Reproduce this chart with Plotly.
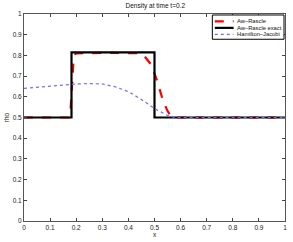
import plotly.graph_objects as go

# ---- data ----
x_exact = [0, 0.182, 0.182, 0.5, 0.5, 1]
rho_exact = [0.5, 0.5, 0.815, 0.815, 0.5, 0.5]

x_ar = [0, 0.172, 0.178, 0.184, 0.19, 0.196, 0.2, 0.3, 0.4, 0.44, 0.456, 0.47, 0.487,
        0.5, 0.512, 0.531, 0.55, 0.563, 0.582, 0.6, 0.8, 1]
rho_ar = [0.5, 0.5, 0.53, 0.68, 0.78, 0.805, 0.81, 0.812, 0.812, 0.811, 0.805, 0.785,
          0.756, 0.712, 0.67, 0.588, 0.531, 0.507, 0.5, 0.5, 0.5, 0.5]

x_hj = [0, 0.05, 0.1, 0.15, 0.2, 0.25, 0.3, 0.35, 0.4, 0.45, 0.5, 0.55, 0.58, 0.6, 0.8, 1]
rho_hj = [0.641, 0.647, 0.653, 0.658, 0.662, 0.664, 0.662, 0.648, 0.625, 0.587, 0.543,
          0.51, 0.5, 0.5, 0.5, 0.5]

names = ["Aw\u2013Rascle", "Aw\u2013Rascle exact", "Hamilton\u2013Jacobi"]
colors = ["#ff0000", "#000000", "#6f6fff"]
dashes = ["dash", "solid", "dot"]
widths = [2.2, 2.2, 1.2]
title = "Density at time t=0.2"
xlabel = "x"
ylabel = "rho"
ticks = [i / 10 for i in range(11)]

FONT = "Liberation Sans, Arial, sans-serif"
W, H = 293, 242
L, R, T, B = 23, 6, 14, 19

fig = go.Figure()
series = [(x_ar, rho_ar), (x_exact, rho_exact), (x_hj, rho_hj)]
for (xs, ys), n, c, d, w in zip(series, names, colors, dashes, widths):
    fig.add_trace(go.Scatter(x=xs, y=ys, mode="lines", name=n,
                             line=dict(color=c, dash=d, width=w), showlegend=False))

axis_common = dict(range=[0, 1], tickvals=ticks, ticks="inside", ticklen=3,
                   tickcolor="#444", showline=True, linecolor="#555", linewidth=1,
                   mirror="ticks", showgrid=False, zeroline=False,
                   tickfont=dict(size=6.5, color="#222", family=FONT))
fig.update_xaxes(**axis_common)
fig.update_yaxes(**axis_common)
fig.update_xaxes(title=dict(text=xlabel, font=dict(size=6.5, color="#222", family=FONT), standoff=1))
fig.update_yaxes(title=dict(text=ylabel, font=dict(size=6.5, color="#222", family=FONT), standoff=2))

# manual legend (paper coordinates)
pw, ph = W - L - R, H - T - B
def px(xp):
    return (xp - L) / pw
def py(yp):
    return 1 - (yp - T) / ph

shapes = [dict(type="rect", xref="paper", yref="paper", x0=px(213.5), x1=px(286),
               y0=py(39.5), y1=py(15), line=dict(color="#000", width=1),
               fillcolor="white", layer="above")]
annotations = []
rows = [21.5, 28, 34.5]
for n, c, d, w, yy in zip(names, colors, dashes, widths, rows):
    shapes.append(dict(type="line", xref="paper", yref="paper", x0=px(216), x1=px(235),
                       y0=py(yy), y1=py(yy), line=dict(color=c, dash=d, width=w),
                       layer="above"))
    annotations.append(dict(xref="paper", yref="paper", x=px(236.5), y=py(yy), text=n,
                            showarrow=False, xanchor="left", yanchor="middle",
                            font=dict(size=5.8, color="#111", family=FONT)))

fig.update_layout(
    width=W, height=H, margin=dict(l=L, r=R, t=T, b=B),
    paper_bgcolor="white", plot_bgcolor="white",
    title=dict(text=title, x=0.53, xanchor="center", y=1 - 5.5 / H, yanchor="middle",
               yref="container", font=dict(size=6.5, color="#111", family=FONT)),
    shapes=shapes, annotations=annotations, showlegend=False,
)

fig.write_html("out.html", config={"displayModeBar": False},
               post_script="document.body.style.margin='0';document.body.style.overflow='hidden';")
